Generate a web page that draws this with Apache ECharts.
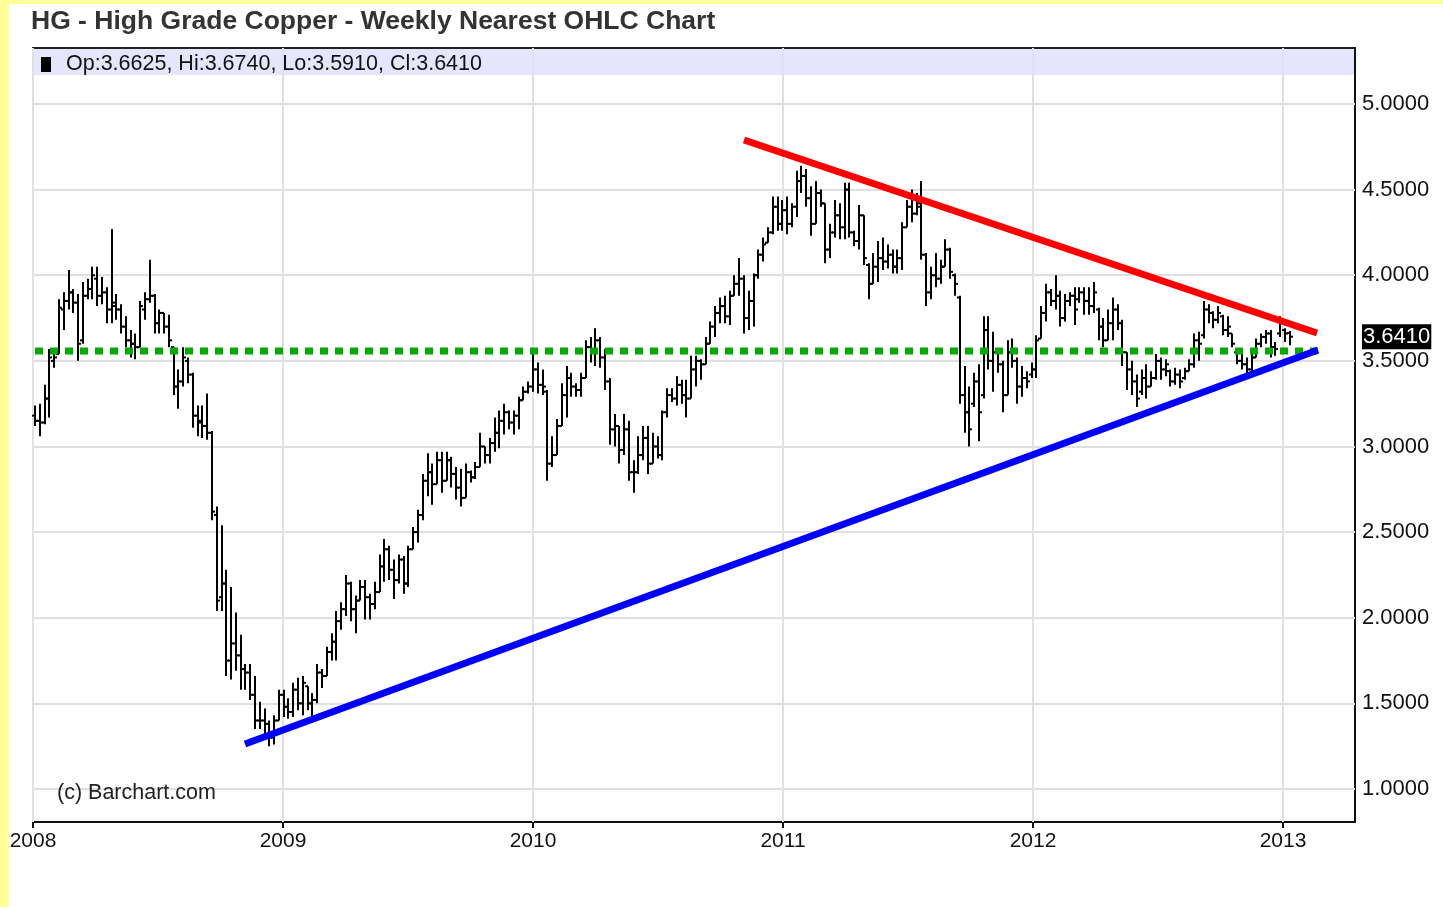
<!DOCTYPE html>
<html><head><meta charset="utf-8">
<script src="https://cdn.jsdelivr.net/npm/echarts@6/dist/echarts.min.js"></script>
<style>html,body{margin:0;padding:0;background:#fff;overflow:hidden}#chart{width:1443px;height:907px}</style>
</head><body><div id="chart"></div>
<script>
// Weekly bars, first bar dated this Friday, then one bar every 7 days
const firstWeek = '2008-01-04';
// [open, high, low, close]
const ohlc2008 = [
[3.18,3.24,3.12,3.15],[3.15,3.25,3.06,3.14],[3.14,3.36,3.13,3.28],[3.28,3.57,3.17,3.52],[3.50,3.57,3.46,3.52],
[3.54,3.86,3.54,3.81],[3.80,3.90,3.68,3.85],[3.85,4.03,3.80,3.90],[3.90,3.92,3.78,3.84],[3.84,3.89,3.50,3.60],
[3.62,3.96,3.60,3.88],[3.88,3.98,3.86,3.92],[3.92,4.05,3.86,4.00],[3.98,4.05,3.82,3.88],[3.88,3.99,3.83,3.90],
[3.90,3.93,3.72,3.80],[3.80,4.27,3.72,3.82],[3.84,3.89,3.74,3.80],[3.80,3.83,3.66,3.70],[3.70,3.76,3.58,3.62],
[3.62,3.68,3.52,3.60],[3.60,3.66,3.51,3.58],[3.58,3.85,3.58,3.82],[3.80,3.90,3.74,3.86],[3.86,4.09,3.84,3.88],
[3.88,3.89,3.66,3.72],[3.72,3.80,3.66,3.78],[3.78,3.78,3.66,3.70],[3.70,3.77,3.58,3.62],[3.58,3.58,3.30,3.35],
[3.35,3.45,3.22,3.38],[3.38,3.58,3.35,3.52],[3.50,3.52,3.37,3.42],[3.42,3.43,3.11,3.18],[3.18,3.24,3.06,3.15],
[3.14,3.24,3.05,3.12],[3.12,3.31,3.04,3.08],[3.08,3.09,2.57,2.62],[2.60,2.65,2.04,2.10],[2.12,2.54,2.04,2.20],
[2.20,2.28,1.66,1.75],[1.75,2.18,1.64,1.85],[1.85,2.03,1.69,1.78],[1.78,1.90,1.58,1.70],[1.70,1.73,1.58,1.68],
[1.68,1.73,1.52,1.55],[1.55,1.66,1.35,1.40],[1.40,1.51,1.35,1.40],[1.40,1.47,1.29,1.38],[1.38,1.40,1.25,1.30],
[1.30,1.43,1.26,1.40],[1.40,1.58,1.40,1.55]
];
const ohlc2009 = [
[1.55,1.58,1.42,1.48],[1.48,1.53,1.41,1.45],[1.45,1.62,1.42,1.58],[1.58,1.65,1.46,1.50],[1.50,1.66,1.43,1.62],
[1.60,1.60,1.46,1.50],[1.50,1.56,1.42,1.52],[1.52,1.73,1.50,1.68],[1.68,1.70,1.59,1.66],[1.66,1.83,1.66,1.80],
[1.80,1.91,1.75,1.86],[1.86,2.04,1.75,1.98],[1.98,2.09,1.93,2.05],[2.05,2.25,2.01,2.20],[2.20,2.21,1.98,2.05],
[2.05,2.13,1.91,2.10],[2.10,2.22,2.10,2.18],[2.18,2.22,1.99,2.12],[2.12,2.14,1.99,2.08],[2.08,2.21,2.05,2.15],
[2.15,2.37,2.15,2.30],[2.30,2.46,2.21,2.40],[2.40,2.42,2.22,2.28],[2.28,2.34,2.11,2.22],[2.22,2.37,2.20,2.34],
[2.34,2.36,2.14,2.20],[2.20,2.42,2.18,2.40],[2.40,2.53,2.40,2.50],[2.50,2.63,2.44,2.60],[2.60,2.84,2.57,2.80],
[2.80,2.96,2.71,2.85],[2.85,2.90,2.66,2.78],[2.78,2.97,2.78,2.92],[2.92,2.97,2.73,2.80],[2.80,2.97,2.80,2.92],
[2.92,2.94,2.76,2.84],[2.84,2.88,2.69,2.76],[2.76,2.87,2.65,2.70],[2.70,2.90,2.70,2.85],[2.85,2.86,2.79,2.82],
[2.82,2.91,2.81,2.88],[2.88,3.08,2.88,3.00],[3.00,3.00,2.90,2.95],[2.95,3.05,2.90,3.02],[3.02,3.17,2.97,3.08],
[3.08,3.21,2.99,3.15],[3.15,3.25,3.07,3.20],[3.20,3.21,3.10,3.14],[3.14,3.21,3.07,3.18],[3.18,3.29,3.10,3.27],
[3.27,3.35,3.27,3.32],[3.32,3.38,3.31,3.35]
];
const ohlc2010 = [
[3.35,3.54,3.32,3.45],[3.45,3.49,3.31,3.36],[3.36,3.45,3.30,3.35],[3.32,3.33,2.80,2.90],[2.90,3.06,2.88,2.95],
[2.95,3.16,2.95,3.12],[3.12,3.37,3.12,3.30],[3.30,3.47,3.17,3.40],[3.40,3.43,3.29,3.35],[3.35,3.37,3.29,3.33],
[3.33,3.43,3.29,3.40],[3.40,3.62,3.40,3.58],[3.58,3.64,3.49,3.55],[3.55,3.69,3.47,3.62],[3.62,3.64,3.46,3.52],
[3.52,3.57,3.33,3.38],[3.38,3.40,3.01,3.10],[3.10,3.19,3.00,3.12],[3.12,3.12,2.90,2.98],[2.98,3.19,2.95,3.10],
[3.10,3.15,2.80,2.85],[2.85,2.92,2.73,2.85],[2.85,3.06,2.84,2.95],[2.95,3.12,2.92,3.05],[3.05,3.12,2.84,2.90],
[2.90,3.08,2.90,3.00],[3.00,3.06,2.93,2.95],[2.95,3.21,2.92,3.20],[3.20,3.34,3.17,3.30],[3.30,3.34,3.26,3.28],
[3.28,3.41,3.24,3.36],[3.36,3.39,3.25,3.30],[3.30,3.39,3.17,3.28],[3.28,3.53,3.28,3.45],[3.45,3.53,3.35,3.50],
[3.50,3.51,3.39,3.48],[3.48,3.64,3.48,3.60],[3.60,3.73,3.60,3.70],[3.70,3.82,3.64,3.78],[3.78,3.87,3.72,3.82],
[3.82,3.88,3.72,3.76],[3.76,3.91,3.71,3.88],[3.88,4.00,3.88,3.95],[3.95,4.10,3.88,3.98],[3.98,4.00,3.66,3.75],
[3.75,3.91,3.68,3.85],[3.85,4.01,3.70,4.00],[4.00,4.15,3.98,4.12],[4.12,4.22,4.08,4.18],[4.19,4.28,4.19,4.25],
[4.25,4.46,4.24,4.40],[4.40,4.46,4.26,4.30]
];
const ohlc2011 = [
[4.30,4.44,4.26,4.38],[4.38,4.46,4.24,4.30],[4.30,4.42,4.28,4.40],[4.40,4.61,4.34,4.55],[4.55,4.64,4.48,4.58],
[4.58,4.62,4.40,4.45],[4.45,4.52,4.23,4.30],[4.30,4.55,4.30,4.48],[4.48,4.50,4.40,4.42],[4.42,4.42,4.07,4.15],
[4.15,4.30,4.10,4.25],[4.25,4.44,4.22,4.35],[4.35,4.42,4.21,4.28],[4.28,4.54,4.21,4.50],[4.50,4.54,4.22,4.25],
[4.25,4.26,4.17,4.20],[4.20,4.41,4.15,4.35],[4.35,4.35,4.06,4.10],[4.06,4.07,3.86,3.95],[3.95,4.13,3.95,4.05],
[4.05,4.20,3.96,4.10],[4.10,4.22,4.03,4.08],[4.08,4.18,4.04,4.12],[4.12,4.15,4.01,4.05],[4.05,4.15,4.01,4.10],
[4.10,4.31,4.03,4.28],[4.28,4.44,4.28,4.40],[4.40,4.50,4.31,4.36],[4.36,4.48,4.35,4.42],[4.40,4.55,4.09,4.12],
[4.12,4.13,3.82,3.90],[3.90,4.05,3.86,4.00],[4.00,4.13,3.93,3.98],[3.98,4.09,3.95,4.05],[4.05,4.21,4.05,4.15],
[4.15,4.16,3.98,4.02],[4.00,4.01,3.88,3.95],[3.87,3.88,3.25,3.30],[3.30,3.47,3.08,3.20],[3.20,3.35,3.00,3.10],
[3.25,3.43,3.23,3.38],[3.38,3.48,3.03,3.20],[3.30,3.76,3.28,3.68],[3.68,3.76,3.45,3.50],[3.50,3.67,3.32,3.55],
[3.55,3.56,3.43,3.48],[3.48,3.50,3.20,3.30],[3.30,3.62,3.30,3.55],[3.55,3.63,3.46,3.50],[3.50,3.52,3.25,3.35],
[3.35,3.47,3.29,3.40],[3.40,3.44,3.34,3.38]
];
const ohlc2012 = [
[3.42,3.49,3.40,3.45],[3.45,3.65,3.40,3.62],[3.63,3.82,3.63,3.78],[3.78,3.95,3.73,3.90],[3.90,3.92,3.82,3.85],
[3.85,4.00,3.80,3.88],[3.88,3.91,3.70,3.75],[3.75,3.89,3.73,3.85],[3.85,3.90,3.82,3.88],[3.88,3.93,3.71,3.80],
[3.86,3.93,3.84,3.90],[3.90,3.93,3.77,3.85],[3.85,3.93,3.77,3.82],[3.82,3.96,3.78,3.90],[3.80,3.81,3.62,3.70],
[3.70,3.75,3.58,3.62],[3.62,3.80,3.62,3.72],[3.72,3.87,3.62,3.80],[3.80,3.83,3.68,3.72],[3.72,3.74,3.47,3.55],
[3.55,3.55,3.33,3.45],[3.45,3.50,3.30,3.38],[3.38,3.42,3.23,3.28],[3.32,3.45,3.30,3.40],[3.40,3.48,3.28,3.35],
[3.35,3.44,3.35,3.40],[3.40,3.54,3.39,3.50],[3.50,3.52,3.39,3.45],[3.45,3.51,3.41,3.48],[3.44,3.45,3.35,3.38],
[3.38,3.46,3.36,3.42],[3.42,3.45,3.34,3.38],[3.40,3.46,3.39,3.44],[3.44,3.51,3.44,3.48],[3.48,3.66,3.46,3.62],
[3.62,3.67,3.50,3.60],[3.65,3.85,3.63,3.80],[3.80,3.83,3.72,3.78],[3.78,3.79,3.69,3.74],[3.74,3.82,3.72,3.78],
[3.76,3.77,3.65,3.68],[3.68,3.76,3.64,3.70],[3.66,3.66,3.58,3.60],[3.55,3.55,3.48,3.50],[3.50,3.56,3.45,3.48],
[3.48,3.52,3.42,3.45],[3.45,3.56,3.44,3.52],[3.52,3.63,3.52,3.60],[3.60,3.66,3.58,3.64],[3.64,3.68,3.60,3.66],
[3.66,3.68,3.52,3.58],[3.58,3.61,3.53,3.57],[3.66,3.76,3.64,3.72],[3.68,3.69,3.61,3.66],[3.6625,3.674,3.591,3.641]
];
const yTickValues = [1.0, 1.5, 2.0, 2.5, 3.0, 3.5, 4.0, 4.5, 5.0];
const xTickYears = [2008, 2009, 2010, 2011, 2012, 2013];
// hand-drawn trend lines: [year, price] end points
const resistanceLine = [[2010.844, 4.790], [2013.136, 3.663]];
const supportLine = [[2008.848, 1.263], [2013.140, 3.5635]];
const pivotLine = [[2008.008, 3.557], [2013.168, 3.557]];

const FONT = "'Liberation Sans',Arial,sans-serif";
const allBars = ohlc2008.concat(ohlc2009, ohlc2010, ohlc2011, ohlc2012);
const t0 = Date.parse(firstWeek + 'T00:00:00Z');
function decimalYear(t) {
  const y = new Date(t).getUTCFullYear();
  const s = Date.UTC(y, 0, 1), e = Date.UTC(y + 1, 0, 1);
  return y + (t - s) / (e - s);
}
const seriesData = allBars.map((b, i) => [decimalYear(t0 + i * 7 * 86400000), b[0], b[1], b[2], b[3]]);
const last = allBars[allBars.length - 1];
const lastClose = last[3];

const chart = echarts.init(document.getElementById('chart'), null, {renderer: 'canvas'});
chart.setOption({
  animation: false,
  backgroundColor: '#ffffff',
  title: {
    text: 'HG - High Grade Copper - Weekly Nearest OHLC Chart',
    left: 31, top: 8, padding: 0,
    textStyle: {fontFamily: FONT, fontSize: 26.5, fontWeight: 'bold', color: '#333'}
  },
  grid: {left: 33, right: 88, top: 48, bottom: 85, show: true, borderColor: '#222', borderWidth: 2, backgroundColor: '#fff'},
  xAxis: {
    type: 'value', min: 2008, max: 2013.288,
    axisLine: {show: true, lineStyle: {color: '#111', width: 2}},
    axisTick: {show: true, customValues: xTickYears, length: 6, lineStyle: {color: '#111', width: 2}},
    axisLabel: {customValues: xTickYears, formatter: v => String(Math.round(v)), margin: 9,
      fontFamily: FONT, fontSize: 21, color: '#111'},
    splitLine: {show: false}
  },
  yAxis: {
    type: 'value', position: 'right', min: 0.8073, max: 5.327, scale: true,
    axisLine: {show: true, lineStyle: {color: '#111', width: 2}},
    axisTick: {show: true, inside: true, customValues: yTickValues, length: 10, lineStyle: {color: '#111', width: 2}},
    axisLabel: {
      customValues: yTickValues.concat([lastClose]), margin: 7,
      fontFamily: FONT, fontSize: 22, color: '#111',
      formatter: v => Math.abs(v - lastClose) < 1e-9 ? '{hl|' + v.toFixed(4) + '}' : v.toFixed(4),
      rich: {hl: {backgroundColor: '#000', color: '#fff', fontFamily: FONT, fontSize: 22, padding: [2, 1, 1, 1]}}
    },
    splitLine: {show: false}
  },
  graphic: [
    {type: 'rect', shape: {x: 0, y: 0, width: 9, height: 907}, style: {fill: '#ffff99'}, silent: true},
    {type: 'rect', shape: {x: 0, y: 0, width: 1443, height: 4}, style: {fill: '#ffff99'}, silent: true},
    {type: 'rect', shape: {x: 34, y: 49, width: 1320, height: 26}, style: {fill: 'rgba(222,222,250,0.8)'}, z: 10, silent: true},
    {type: 'rect', shape: {x: 41, y: 57, width: 10, height: 15}, style: {fill: '#000'}, z: 11, silent: true},
    {type: 'text', x: 66, y: 64, z: 11, silent: true, style: {
      text: 'Op:' + last[0].toFixed(4) + ', Hi:' + last[1].toFixed(4) + ', Lo:' + last[2].toFixed(4) + ', Cl:' + last[3].toFixed(4),
      font: '21.5px ' + FONT, fill: '#111', verticalAlign: 'middle'}},
    {type: 'text', x: 57, y: 793, z: 11, silent: true, style: {text: '(c) Barchart.com', font: '21.5px ' + FONT, fill: '#222', verticalAlign: 'middle'}}
  ],
  series: [
    {
      type: 'line', data: [], silent: true,
      markLine: {
        silent: true, symbol: 'none', z: 1, animation: false,
        label: {show: false},
        lineStyle: {color: '#e0e0e0', width: 2, type: 'solid'},
        emphasis: {disabled: true},
        data: yTickValues.map(v => ({yAxis: v})).concat(xTickYears.map(v => ({xAxis: v})))
      }
    },
    {
      type: 'custom', data: seriesData, z: 3, silent: true,
      encode: {x: 0, y: [1, 2, 3, 4]},
      renderItem: function (params, api) {
        const x = api.value(0);
        const o = api.coord([x, api.value(1)]);
        const h = api.coord([x, api.value(2)]);
        const l = api.coord([x, api.value(3)]);
        const c = api.coord([x, api.value(4)]);
        const px = Math.round(h[0]);
        const st = {stroke: '#000', lineWidth: 2};
        return {type: 'group', children: [
          {type: 'line', shape: {x1: px, y1: h[1], x2: px, y2: l[1]}, style: st},
          {type: 'line', shape: {x1: px - 3, y1: o[1], x2: px, y2: o[1]}, style: st},
          {type: 'line', shape: {x1: px, y1: c[1], x2: px + 3, y2: c[1]}, style: st}
        ]};
      }
    },
    {type: 'line', data: pivotLine, z: 5, silent: true, symbol: 'none',
      lineStyle: {color: '#00aa00', width: 7, type: [8, 7], cap: 'butt'}},
    {type: 'line', data: resistanceLine, z: 6, silent: true, symbol: 'none',
      lineStyle: {color: '#ff0000', width: 7}},
    {type: 'line', data: supportLine, z: 6, silent: true, symbol: 'none',
      lineStyle: {color: '#0000ff', width: 7}}
  ]
});
</script></body></html>
